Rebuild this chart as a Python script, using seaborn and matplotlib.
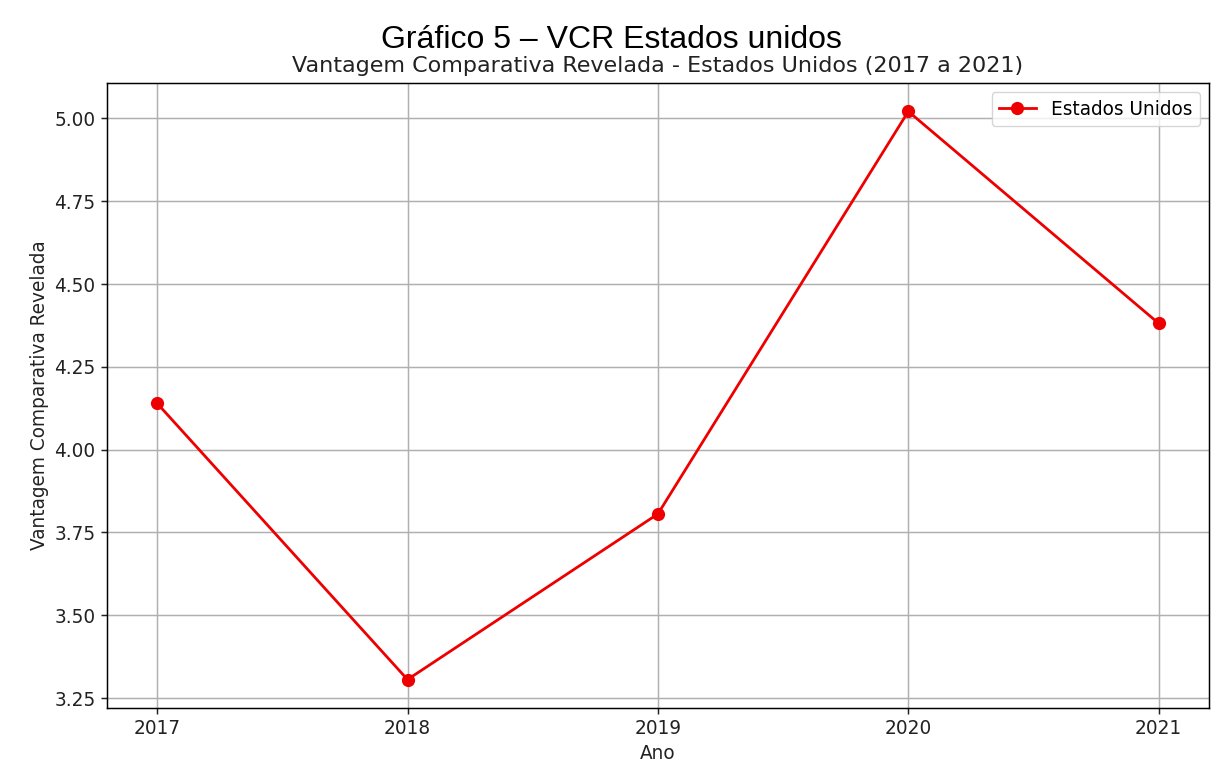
import matplotlib
matplotlib.use("Agg")
import matplotlib.pyplot as plt
import seaborn as sns
import pandas as pd

anos = [2017, 2018, 2019, 2020, 2021]
vcr = [4.140, 3.306, 3.806, 5.021, 4.381]
serie = "Estados Unidos"
yticks = [3.25, 3.50, 3.75, 4.00, 4.25, 4.50, 4.75, 5.00]

df = pd.DataFrame({"Ano": anos, "VCR": vcr})

s = 4 / 3
plt.rcParams.update({
    "font.family": ["DejaVu Sans"],
    "axes.linewidth": 0.8 * s,
    "xtick.major.width": 0.8 * s,
    "ytick.major.width": 0.8 * s,
    "xtick.major.size": 3.5 * s,
    "ytick.major.size": 3.5 * s,
})

fig = plt.figure(figsize=(12.23, 7.75), dpi=100)
ax = fig.add_axes([0.0875, 0.0865, 0.9009, 0.8064])
sns.lineplot(data=df, x="Ano", y="VCR", ax=ax, color="#ee0000", marker="o",
             markersize=9.5, markeredgewidth=0, linewidth=1.5 * s, label=serie)
ax.grid(True, color="#b0b0b0", linewidth=0.8 * s)
ax.set_axisbelow(True)
ax.set_xticks(anos)
ax.set_xticklabels([str(a) for a in anos])
ax.set_yticks(yticks)
ax.set_yticklabels([f"{v:.2f}" for v in yticks])
ax.tick_params(labelsize=10 * s, colors="#222222", labelcolor="#222222")
ax.set_xlabel("Ano", fontsize=10 * s, color="#222222")
ax.set_ylabel("Vantagem Comparativa Revelada", fontsize=10 * s, color="#222222")
ax.set_title("Vantagem Comparativa Revelada - Estados Unidos (2017 a 2021)",
             fontsize=12 * s, pad=6 * s, color="#222222")
ax.legend(loc="upper right", fontsize=10 * s, frameon=True)
ax.margins(y=0.05)

fig.text(0.5, 0.949, "Gráfico 5 – VCR Estados unidos", ha="center", va="center",
         fontsize=23, family=["Liberation Sans", "DejaVu Sans"])

fig.savefig("out.png", dpi=100, facecolor="white")
